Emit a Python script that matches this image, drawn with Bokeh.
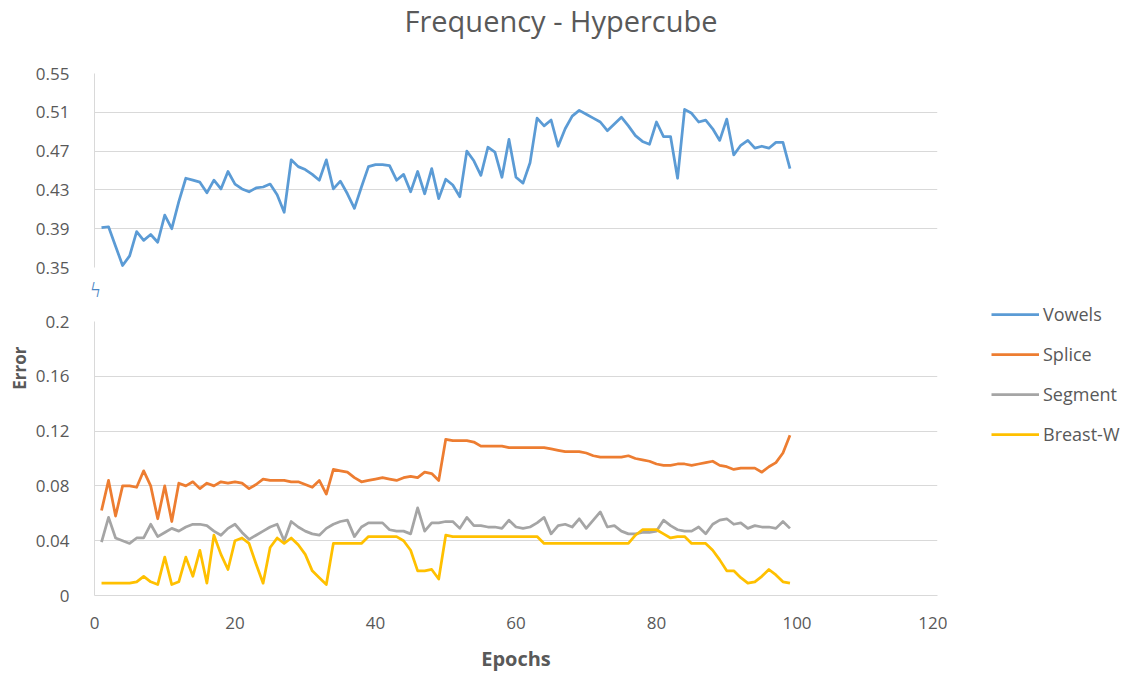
import numpy as np
from bokeh.plotting import figure
from bokeh.layouts import column, row
from bokeh.models import (ColumnDataSource, Range1d, FixedTicker, Title, Legend, LegendItem)
from bokeh.embed import file_html
from bokeh.resources import INLINE

# ---------------- data ----------------
epochs = list(range(1, 100))

vowels = [0.391, 0.392, 0.372, 0.352, 0.362, 0.387, 0.378, 0.384, 0.376, 0.404,
          0.390, 0.418, 0.442, 0.440, 0.438, 0.427, 0.440, 0.431, 0.449, 0.436,
          0.431, 0.428, 0.432, 0.433, 0.436, 0.425, 0.407, 0.461, 0.454, 0.451,
          0.446, 0.440, 0.461, 0.431, 0.439, 0.426, 0.411, 0.433, 0.454, 0.456,
          0.456, 0.455, 0.440, 0.446, 0.428, 0.449, 0.426, 0.452, 0.421, 0.441,
          0.435, 0.423, 0.470, 0.460, 0.445, 0.474, 0.469, 0.443, 0.482, 0.443,
          0.437, 0.458, 0.504, 0.496, 0.502, 0.475, 0.493, 0.506, 0.512, 0.508,
          0.504, 0.500, 0.491, 0.498, 0.505, 0.496, 0.486, 0.480, 0.477, 0.500,
          0.485, 0.485, 0.442, 0.513, 0.509, 0.500, 0.502, 0.493, 0.481, 0.503,
          0.466, 0.476, 0.481, 0.473, 0.475, 0.473, 0.479, 0.479, 0.452]

splice = [0.062, 0.084, 0.058, 0.080, 0.080, 0.079, 0.091, 0.080, 0.056, 0.080,
          0.054, 0.082, 0.080, 0.083, 0.078, 0.082, 0.080, 0.083, 0.082, 0.083,
          0.082, 0.078, 0.081, 0.085, 0.084, 0.084, 0.084, 0.083, 0.083, 0.081,
          0.079, 0.084, 0.074, 0.092, 0.091, 0.090, 0.086, 0.083, 0.084, 0.085,
          0.086, 0.085, 0.084, 0.086, 0.087, 0.086, 0.090, 0.089, 0.084, 0.114,
          0.113, 0.113, 0.113, 0.112, 0.109, 0.109, 0.109, 0.109, 0.108, 0.108,
          0.108, 0.108, 0.108, 0.108, 0.107, 0.106, 0.105, 0.105, 0.105, 0.104,
          0.102, 0.101, 0.101, 0.101, 0.101, 0.102, 0.100, 0.099, 0.098, 0.096,
          0.095, 0.095, 0.096, 0.096, 0.095, 0.096, 0.097, 0.098, 0.095, 0.094,
          0.092, 0.093, 0.093, 0.093, 0.090, 0.094, 0.097, 0.104, 0.117]

segment = [0.039, 0.057, 0.042, 0.040, 0.038, 0.042, 0.042, 0.052, 0.043, 0.046,
           0.049, 0.047, 0.050, 0.052, 0.052, 0.051, 0.047, 0.044, 0.049, 0.052,
           0.046, 0.041, 0.044, 0.047, 0.050, 0.052, 0.040, 0.054, 0.050, 0.047,
           0.045, 0.044, 0.049, 0.052, 0.054, 0.055, 0.043, 0.050, 0.053, 0.053,
           0.053, 0.048, 0.047, 0.047, 0.045, 0.064, 0.047, 0.053, 0.053, 0.054,
           0.054, 0.049, 0.057, 0.051, 0.051, 0.050, 0.050, 0.049, 0.055, 0.050,
           0.049, 0.050, 0.053, 0.057, 0.045, 0.051, 0.052, 0.050, 0.056, 0.049,
           0.055, 0.061, 0.050, 0.051, 0.047, 0.045, 0.045, 0.046, 0.046, 0.047,
           0.055, 0.051, 0.048, 0.047, 0.047, 0.050, 0.045, 0.052, 0.055, 0.056,
           0.052, 0.053, 0.049, 0.051, 0.050, 0.050, 0.049, 0.054, 0.049]

breast_w = [0.009, 0.009, 0.009, 0.009, 0.009, 0.010, 0.014, 0.010, 0.008, 0.028,
            0.008, 0.010, 0.028, 0.014, 0.033, 0.009, 0.044, 0.030, 0.019, 0.040,
            0.042, 0.038, 0.023, 0.009, 0.035, 0.042, 0.038, 0.042, 0.037, 0.030,
            0.018, 0.013, 0.008, 0.038, 0.038, 0.038, 0.038, 0.038, 0.043, 0.043,
            0.043, 0.043, 0.043, 0.040, 0.033, 0.018, 0.018, 0.019, 0.012, 0.044,
            0.043, 0.043, 0.043, 0.043, 0.043, 0.043, 0.043, 0.043, 0.043, 0.043,
            0.043, 0.043, 0.043, 0.038, 0.038, 0.038, 0.038, 0.038, 0.038, 0.038,
            0.038, 0.038, 0.038, 0.038, 0.038, 0.038, 0.044, 0.048, 0.048, 0.048,
            0.045, 0.042, 0.043, 0.043, 0.038, 0.038, 0.038, 0.033, 0.026, 0.018,
            0.018, 0.013, 0.009, 0.010, 0.014, 0.019, 0.015, 0.010, 0.009]

series_names = ["Vowels", "Splice", "Segment", "Breast-W"]
series_colors = ["#5B9BD5", "#ED7D31", "#A5A5A5", "#FFC000"]

top_ticks = [0.35, 0.39, 0.43, 0.47, 0.51, 0.55]
top_labels = ["0.35", "0.39", "0.43", "0.47", "0.51", "0.55"]
bottom_ticks = [0.0, 0.04, 0.08, 0.12, 0.16, 0.2]
bottom_labels = ["0", "0.04", "0.08", "0.12", "0.16", "0.2"]
x_ticks = [0, 20, 40, 60, 80, 100, 120]

title_text = "Frequency - Hypercube"
x_label = "Epochs"
y_label = "Error"

# ---------------- style ----------------
FONT = "Open Sans"
TXT = "#595959"
GRID = "#D9D9D9"
LW = 2.75

src = ColumnDataSource(dict(epoch=epochs, vowels=vowels, splice=splice,
                            segment=segment, breast_w=breast_w))

x_range = Range1d(0, 120)

FRAME_W = 843
LEFT = 94
RIGHT = 10
TITLE_H = 53


def style(p):
    p.outline_line_color = None
    p.background_fill_color = "white"
    p.border_fill_color = "white"
    p.xgrid.visible = False
    p.ygrid.grid_line_color = GRID
    p.ygrid.grid_line_width = 1
    for ax in p.yaxis:
        ax.axis_line_color = GRID
        ax.major_tick_line_color = None
        ax.minor_tick_line_color = None
        ax.major_label_text_font = FONT
        ax.major_label_text_font_size = "17px"
        ax.major_label_text_color = TXT
        ax.major_label_standoff = 19


# ---------- title strip ----------
head = figure(x_range=x_range, y_range=Range1d(0, 1),
              frame_width=FRAME_W, height=TITLE_H,
              min_border_left=LEFT, min_border_right=RIGHT,
              min_border_top=0, min_border_bottom=0,
              output_backend="svg", toolbar_location=None)
head.axis.visible = False
head.grid.visible = False
head.outline_line_color = None
head.add_layout(Title(text=title_text, align="left", offset=310, standoff=1,
                      vertical_align="top",
                      text_font=FONT, text_font_size="29px", text_font_style="normal",
                      text_color=TXT), "above")

# ---------- top panel ----------
top = figure(x_range=x_range, y_range=Range1d(0.35, 0.55),
             frame_width=FRAME_W, frame_height=194,
             min_border_left=LEFT, min_border_right=RIGHT,
             min_border_top=73 - TITLE_H, min_border_bottom=43,
             output_backend="svg", toolbar_location=None)
style(top)
top.xaxis.visible = False
top.yaxis.ticker = FixedTicker(ticks=top_ticks)
top.yaxis.major_label_overrides = dict(zip(top_ticks, top_labels))
top.line("epoch", "vowels", source=src, line_color=series_colors[0], line_width=LW,
         line_join="round")

# axis-break mark below the upper panel
top.add_layout(Title(text="ϟ", align="left", offset=-4, standoff=11,
                     vertical_align="top",
                     text_font=FONT, text_font_size="22px", text_font_style="normal",
                     text_color="#4A86C5"), "below")

# ---------- bottom panel ----------
bot = figure(x_range=x_range, y_range=Range1d(0, 0.2),
             frame_width=FRAME_W, frame_height=274,
             min_border_left=LEFT, min_border_right=RIGHT,
             min_border_top=11, min_border_bottom=72,
             output_backend="svg", toolbar_location=None)
style(bot)
bot.yaxis.ticker = FixedTicker(ticks=bottom_ticks)
bot.yaxis.major_label_overrides = dict(zip(bottom_ticks, bottom_labels))
bot.xaxis.ticker = FixedTicker(ticks=x_ticks)
bot.xaxis.axis_line_color = GRID
bot.xaxis.major_tick_line_color = None
bot.xaxis.minor_tick_line_color = None
bot.xaxis.major_label_text_font = FONT
bot.xaxis.major_label_text_font_size = "17px"
bot.xaxis.major_label_text_color = TXT
bot.xaxis.major_label_standoff = 15
bot.xaxis.axis_label = x_label
bot.xaxis.axis_label_text_font = FONT
bot.xaxis.axis_label_text_font_size = "20px"
bot.xaxis.axis_label_text_font_style = "bold"
bot.xaxis.axis_label_text_color = TXT
bot.xaxis.axis_label_standoff = 13

r_splice = bot.line("epoch", "splice", source=src, line_color=series_colors[1],
                    line_width=LW, line_join="round")
r_segment = bot.line("epoch", "segment", source=src, line_color=series_colors[2],
                     line_width=LW, line_join="round")
r_breast = bot.line("epoch", "breast_w", source=src, line_color=series_colors[3],
                    line_width=LW, line_join="round")

bot.add_layout(Title(text=y_label, align="right", offset=25, standoff=3,
                     text_font=FONT, text_font_size="17px", text_font_style="bold",
                     text_color=TXT), "left")

# ---------- legend column ----------
LEG_H = 460
leg = figure(x_range=Range1d(0, 1), y_range=Range1d(0, 1),
             width=180, height=LEG_H, min_border=0,
             output_backend="svg", toolbar_location=None)
leg.axis.visible = False
leg.grid.visible = False
leg.outline_line_color = None
proxies = [leg.line(x=np.array([0.0]), y=np.array([np.nan]), line_color=c, line_width=LW)
           for c in series_colors]
legend = Legend(items=[LegendItem(label=n, renderers=[r])
                       for n, r in zip(series_names, proxies)],
                location=(44, 14), margin=0, padding=0, spacing=16,
                label_height=20, glyph_height=20, glyph_width=48,
                label_standoff=4, border_line_color=None,
                background_fill_alpha=0, label_text_font=FONT,
                label_text_font_size="18px", label_text_color=TXT)
leg.add_layout(legend, "center")

layout = row(column(head, top, bot, spacing=0), leg, spacing=0)
open("out.html", "w").write(file_html(layout, INLINE))
